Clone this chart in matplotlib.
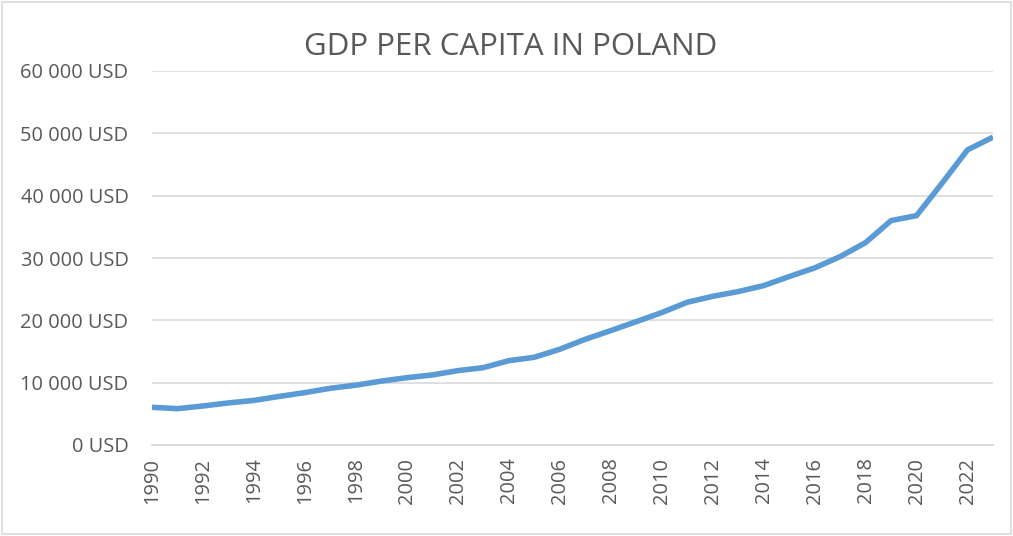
import matplotlib.pyplot as plt

plt.rcParams['font.family'] = ['Open Sans', 'DejaVu Sans']

years = list(range(1990, 2024))
gdp = [6050, 5830, 6260, 6750, 7150, 7800, 8400, 9100, 9600, 10250,
       10800, 11240, 11930, 12410, 13530, 14070, 15360, 16960, 18350, 19790,
       21240, 22900, 23850, 24610, 25570, 27020, 28410, 30220, 32470, 36000,
       36800, 42000, 47350, 49390]
y_ticks = [0, 10000, 20000, 30000, 40000, 50000, 60000]

fig = plt.figure(figsize=(10.13, 5.36), dpi=100)
ax = fig.add_axes([152 / 1013, 1 - 445 / 536, (993 - 152) / 1013, (445 - 71) / 536])

ax.plot(years, gdp, color='#5B9BD5', linewidth=4, solid_capstyle='butt', solid_joinstyle='round', zorder=3)

ax.set_xlim(years[0], years[-1])
ax.set_ylim(0, 60000)
ax.set_yticks(y_ticks)
ax.set_yticklabels([f"{v:,} USD".replace(",", " ") for v in y_ticks])
ax.set_xticks(years[::2])
ax.set_xticklabels([str(y) for y in years[::2]], rotation=90)
ax.grid(axis='y', color='#D9D9D9', linewidth=1.2, zorder=0)
ax.tick_params(axis='both', length=0, colors='#595959', labelsize=14.4)
ax.tick_params(axis='y', pad=17)
ax.tick_params(axis='x', pad=9)
for s in ['top', 'right', 'left']:
    ax.spines[s].set_visible(False)
ax.spines['bottom'].set_color('#D9D9D9')
ax.spines['bottom'].set_linewidth(1.2)

fig.text(511 / 1013, 1 - 47 / 536, "GDP PER CAPITA IN POLAND", ha='center', va='center',
         fontsize=22.5, color='#595959')

fig.patches.append(plt.Rectangle((0.002, 0.003), 0.996, 0.994, transform=fig.transFigure,
                                 fill=False, edgecolor='#D9D9D9', linewidth=1.2))

fig.savefig('out.png', dpi=100)
